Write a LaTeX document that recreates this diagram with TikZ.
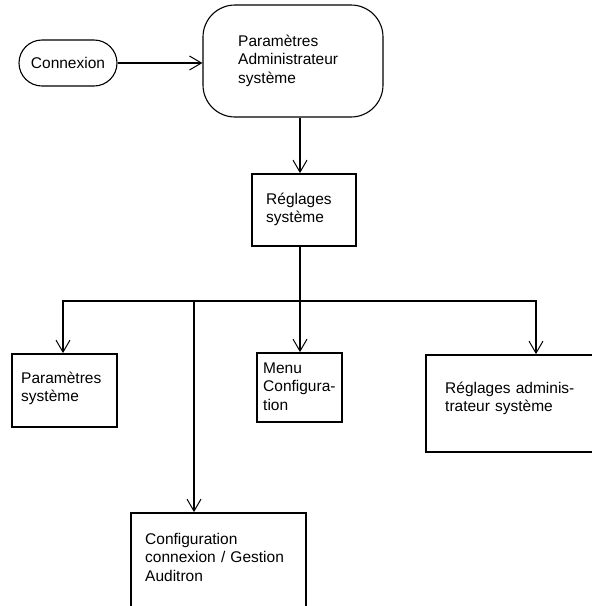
\documentclass[tikz,border=0pt]{standalone}
\usepackage{fontspec}
\setmainfont{Liberation Sans}
\usetikzlibrary{arrows.meta}
\begin{document}
\begin{tikzpicture}[x=1pt,y=-1pt,
  box/.style={draw, line width=1.8pt, inner sep=0pt},
  rbox/.style={draw, line width=1.1pt, inner sep=0pt},
  lbl/.style={font=\fontsize{15.5}{18.7}\selectfont},
  txt/.style={lbl, anchor=base west, inner sep=0pt, text width=220pt, align=left},
  conn/.style={line width=1.8pt, line join=miter},
  tip/.tip={Straight Barb[length=12pt,width=14pt,line width=1pt]},
  arr/.style={conn, -tip}]
\useasboundingbox (0,0) rectangle (592,606);
% top row
\node[rbox, lbl, rounded corners=23pt, minimum width=98pt, minimum height=46pt] (con) at (68,63) {Connexion};
\node[rbox, rounded corners=32pt, minimum width=180pt, minimum height=112pt] (adm) at (293,61) {};
\node[txt] (admt) at (238,46) {Paramètres\\Administrateur\\système};
\draw[arr] (con.east) -- (con.east -| adm.west);
% second level
\node[box, minimum width=104pt, minimum height=72pt] (rs) at (304,210) {};
\node[txt] (rst) at (266,204) {Réglages\\système};
% bus columns
\coordinate (c1) at (63,301);
\coordinate (c2) at (194,301);
\coordinate (c3) at (300,301);
\coordinate (c4) at (536,301);
\draw[arr] (adm.south -| c3) -- (rs.north -| c3);
\draw[conn] (rs.south -| c3) -- (c3);
% third level boxes
\node[box, minimum width=105pt, minimum height=73pt] (ps) at (64.5,390.5) {};
\node[txt] (pst) at (21,383) {Paramètres\\système};
\node[box, minimum width=85pt, minimum height=69pt] (menu) at (299.5,387.5) {};
\node[txt] (menut) at (263,373) {Menu\\Configura-\\tion};
\node[box, minimum width=184pt, minimum height=97pt] (ra) at (518,403.5) {};
\node[txt] (rat) at (445,393) {Réglages adminis-\\trateur système};
\node[box, minimum width=175pt, minimum height=127pt] (cfg) at (218.5,576.5) {};
\node[txt] (cfgt) at (145,544) {Configuration\\connexion / Gestion\\Auditron};
% connectors
\draw[conn, tip-tip] (ps.north -| c1) -- (c1) -- (c4) -- (ra.north -| c4);
\draw[arr] (c3) -- (menu.north -| c3);
\draw[arr] (c2) -- (cfg.north -| c2);
\end{tikzpicture}
\end{document}
